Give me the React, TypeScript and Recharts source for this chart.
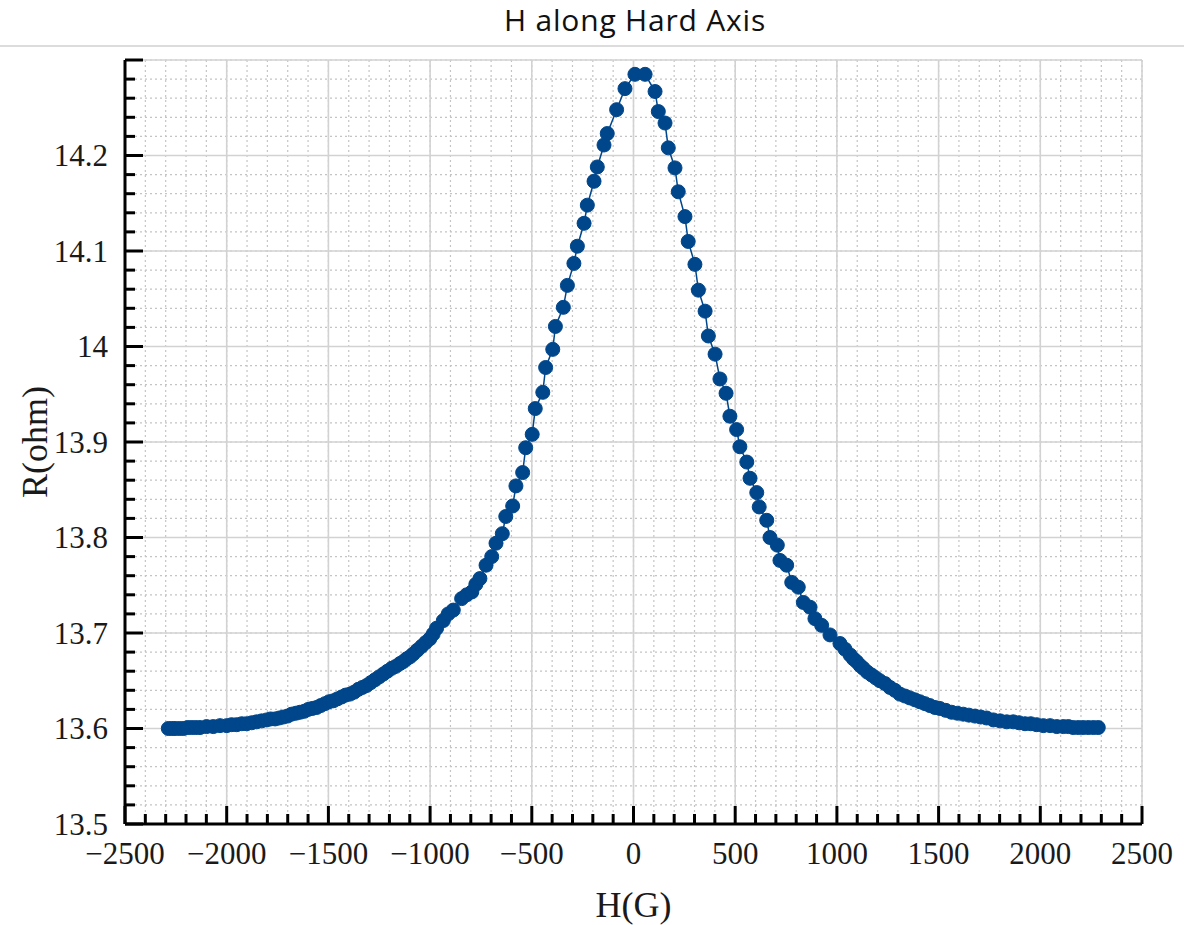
import React from 'react';
import { LineChart, Line, XAxis, YAxis, CartesianGrid } from 'recharts';

const leftTailG = [
  -2287, -2270, -2254, -2233, -2213, -2192, -2172, -2152, -2131, -2099,
  -2066, -2033, -2000, -1976, -1951, -1926, -1902, -1877, -1853, -1828,
  -1803, -1784, -1762, -1742, -1722, -1701, -1681, -1660, -1640, -1619,
  -1599, -1579, -1558, -1538, -1517, -1497, -1476, -1456, -1435, -1415,
  -1394, -1374, -1353, -1333, -1312, -1292, -1271, -1251, -1230, -1210,
  -1189, -1169, -1148, -1132, -1115, -1099, -1083, -1063, -1042, -1022,
  -1001, -985, -968, -935, -911, -886,
];
const leftTailR = [
  13.600, 13.600, 13.600, 13.600, 13.600, 13.601, 13.601, 13.601, 13.601, 13.602,
  13.602, 13.603, 13.603, 13.604, 13.604, 13.605, 13.605, 13.606, 13.607, 13.608,
  13.609, 13.610, 13.610, 13.611, 13.612, 13.613, 13.615, 13.616, 13.617, 13.618,
  13.620, 13.621, 13.622, 13.624, 13.626, 13.628, 13.629, 13.631, 13.633, 13.635,
  13.636, 13.638, 13.641, 13.643, 13.645, 13.648, 13.651, 13.654, 13.657, 13.660,
  13.663, 13.665, 13.668, 13.670, 13.673, 13.675, 13.678, 13.682, 13.686, 13.690,
  13.694, 13.699, 13.705, 13.713, 13.720, 13.724,
];

const peakG = [
  -845, -820, -795, -775, -755, -725, -697, -676, -645, -628,
  -594, -578, -545, -530, -498, -483, -446, -432, -397, -384,
  -345, -325, -293, -276, -243, -227, -194, -178, -145, -129,
  -83, -42, 7, 57, 106, 122, 155, 171, 204, 220,
  253, 269, 302, 319, 352, 368, 401, 425, 455, 474,
  507, 523, 557, 573, 606, 618, 655, 671, 707, 720,
  753, 778, 810, 835, 868, 892, 925, 966,
];
const peakR = [
  13.736, 13.740, 13.743, 13.751, 13.757, 13.771, 13.780, 13.794, 13.804, 13.822,
  13.833, 13.854, 13.868, 13.894, 13.908, 13.935, 13.952, 13.978, 13.997, 14.021,
  14.041, 14.064, 14.087, 14.105, 14.129, 14.148, 14.173, 14.188, 14.211, 14.223,
  14.248, 14.270, 14.285, 14.285, 14.267, 14.246, 14.234, 14.208, 14.187, 14.162,
  14.136, 14.110, 14.086, 14.059, 14.037, 14.011, 13.992, 13.966, 13.951, 13.927,
  13.913, 13.895, 13.879, 13.862, 13.847, 13.832, 13.818, 13.800, 13.792, 13.776,
  13.771, 13.753, 13.748, 13.732, 13.727, 13.715, 13.708, 13.698,
];

const rightTailG = [
  1015, 1040, 1065, 1081, 1097, 1114, 1130, 1150, 1171, 1191,
  1211, 1237, 1261, 1285, 1310, 1335, 1359, 1384, 1408, 1433,
  1457, 1482, 1506, 1535, 1564, 1592, 1621, 1649, 1679, 1707,
  1736, 1769, 1802, 1835, 1867, 1895, 1925, 1953, 1982, 2015,
  2048, 2081, 2113, 2138, 2162, 2187, 2211, 2236, 2261, 2285,
];
const rightTailR = [
  13.689, 13.683, 13.677, 13.673, 13.670, 13.666, 13.663, 13.659, 13.656, 13.653,
  13.650, 13.647, 13.643, 13.640, 13.636, 13.634, 13.632, 13.630, 13.628, 13.626,
  13.624, 13.622, 13.621, 13.619, 13.617, 13.616, 13.615, 13.614, 13.613, 13.612,
  13.611, 13.609, 13.608, 13.607, 13.607, 13.606, 13.605, 13.605, 13.604, 13.603,
  13.603, 13.602, 13.602, 13.602, 13.601, 13.601, 13.601, 13.601, 13.601, 13.601,
];

const xMajorTicks = [-2500, -2000, -1500, -1000, -500, 0, 500, 1000, 1500, 2000, 2500];
const yMajorTicks = [13.5, 13.6, 13.7, 13.8, 13.9, 14.0, 14.1, 14.2, 14.3];
const yLabelMax = 14.2;

// minor ticks: 5 per major step
const xMinorTicks = xMajorTicks.slice(0, -1).flatMap((t) => [0, 100, 200, 300, 400].map((d) => t + d)).concat([2500]);
const yMinorTicks = yMajorTicks.slice(0, -1).flatMap((t) => [0, 0.02, 0.04, 0.06, 0.08].map((d) => +(t + d).toFixed(2))).concat([14.3]);

const fieldG = [...leftTailG, ...peakG, ...rightTailG];
const resistanceOhm = [...leftTailR, ...peakR, ...rightTailR];
const data = fieldG.map((h, i) => ({ h, r: resistanceOhm[i] }));

const SERIF = '"Liberation Serif", "Times New Roman", serif';
const BLUE = '#00468b';

const isMajor = (v: number, step: number) => Math.abs(v / step - Math.round(v / step)) < 1e-6;

const XTick = (props: any) => {
  const { x, y, payload } = props;
  const v = payload.value;
  const major = isMajor(v, 500);
  return (
    <g>
      <line x1={x} x2={x} y1={y} y2={y - (major ? 18 : 10)} stroke="#000" strokeWidth={3} />
      {major && (
        <text x={x} y={y + 40} textAnchor="middle" fontFamily={SERIF} fontSize={31} fill="#1a1a1a">
          {v < 0 ? `\u2212${-v}` : v}
        </text>
      )}
    </g>
  );
};

const YTick = (props: any) => {
  const { x, y, payload } = props;
  const v = payload.value;
  const major = isMajor(v, 0.1);
  return (
    <g>
      <line x1={x} x2={x + (major ? 18 : 10)} y1={y} y2={y} stroke="#000" strokeWidth={3} />
      {major && v <= yLabelMax + 1e-6 && (
        <text x={x - 17} y={y} dy="0.35em" textAnchor="end" fontFamily={SERIF} fontSize={31} fill="#1a1a1a">
          {String(+v.toFixed(1))}
        </text>
      )}
    </g>
  );
};

const App: React.FC = () => {
  return (
    <div style={{ position: 'absolute', left: 0, top: 0, width: 1184, height: 925, background: '#fff' }}>
      <div
        style={{
          position: 'absolute', left: 0, top: -1, width: 1270, textAlign: 'center',
          fontFamily: '"Open Sans", sans-serif', fontSize: 30, letterSpacing: 0.8, color: '#111',
        }}
      >
        H along Hard Axis
      </div>
      <div style={{ position: 'absolute', left: 0, top: 45, width: 1184, height: 2, background: '#dcdcdc' }} />
      <div style={{ position: 'absolute', left: 0, top: 0 }}>
        <LineChart width={1184} height={925} data={data} margin={{ top: 60, right: 42, bottom: 0, left: 0 }}>
          <CartesianGrid stroke="#c4c4c4" strokeDasharray="2 3" strokeWidth={1.2} />
          <CartesianGrid xAxisId="maj" yAxisId="maj" stroke="#d2d2d2" strokeWidth={1.6} />
          <XAxis
            dataKey="h"
            type="number"
            domain={[-2500, 2500]}
            ticks={xMinorTicks}
            interval={0}
            tickSize={0}
            tickMargin={0}
            tickLine={false}
            tick={<XTick />}
            axisLine={{ stroke: '#000', strokeWidth: 3 }}
            height={101}
            allowDataOverflow
            label={{ value: 'H(G)', position: 'insideBottom', offset: 8, fontFamily: SERIF, fontSize: 36, fill: '#1a1a1a' }}
          />
          <YAxis
            type="number"
            domain={[13.5, 14.3]}
            ticks={yMinorTicks}
            interval={0}
            tickSize={0}
            tickMargin={0}
            tickLine={false}
            tick={<YTick />}
            axisLine={{ stroke: '#000', strokeWidth: 3 }}
            width={125}
            allowDataOverflow
            label={{
              content: () => (
                <text x={34} y={442} transform="rotate(-90 34 442)" textAnchor="middle" dy="0.35em"
                  fontFamily={SERIF} fontSize={36} fill="#1a1a1a">
                  R(ohm)
                </text>
              ),
            }}
          />
          <XAxis xAxisId="maj" type="number" dataKey="h" domain={[-2500, 2500]} ticks={xMajorTicks} hide allowDataOverflow />
          <YAxis yAxisId="maj" type="number" domain={[13.5, 14.3]} ticks={yMajorTicks} hide allowDataOverflow />
          <XAxis xAxisId="top" orientation="top" type="number" dataKey="h" domain={[-2500, 2500]} height={0}
            tick={false} tickLine={false} axisLine={{ stroke: '#000', strokeWidth: 3 }} />
          <YAxis yAxisId="right" orientation="right" type="number" domain={[13.5, 14.3]} width={0}
            tick={false} tickLine={false} axisLine={{ stroke: '#000', strokeWidth: 3 }} />
          <Line
            dataKey="r"
            type="linear"
            stroke={BLUE}
            strokeWidth={1.5}
            dot={{ r: 7, fill: BLUE, stroke: BLUE, strokeWidth: 1 }}
            activeDot={false}
            isAnimationActive={false}
          />
        </LineChart>
      </div>
    </div>
  );
};

export default App;
